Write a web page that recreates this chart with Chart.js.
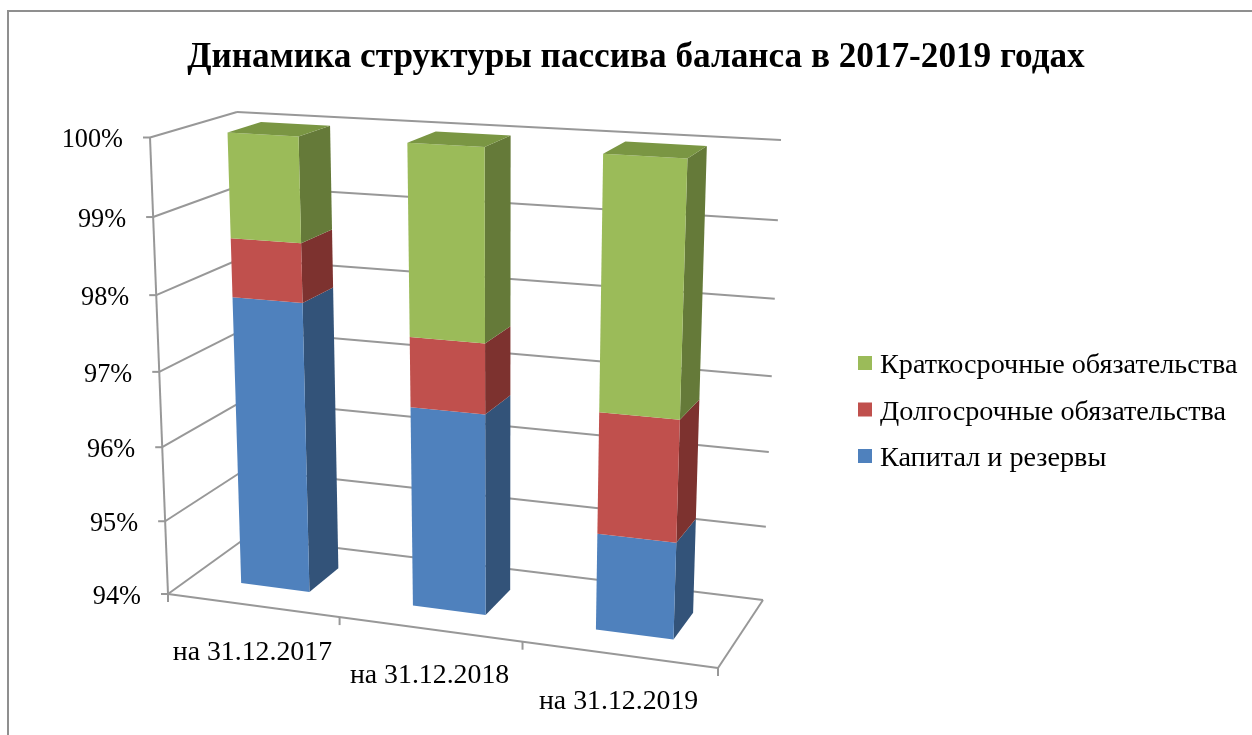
<!DOCTYPE html>
<html>
<head>
<meta charset="utf-8">
<style>
  html, body { margin: 0; padding: 0; background: #fff; overflow: hidden; }
  canvas { display: block; }
</style>
<script src="https://cdn.jsdelivr.net/npm/chart.js@4/dist/chart.umd.min.js"></script>
</head>
<body>
<canvas id="chart" width="1252" height="735"></canvas>
<script>
const categories = ['на 31.12.2017', 'на 31.12.2018', 'на 31.12.2019'];
const capital = [97.88, 96.65, 95.26];
const longTerm = [0.77, 0.91, 1.56];
const shortTerm = [1.35, 2.44, 3.18];
const yTicks = [94, 95, 96, 97, 98, 99, 100];
const seriesNames = ['Капитал и резервы', 'Долгосрочные обязательства', 'Краткосрочные обязательства'];

const C = {
  front: ['#4f81bd', '#c0504d', '#9bbb59'],
  side:  ['#335379', '#7d322f', '#657a39'],
  top:   '#7a9643',
  line:  '#989898',
  frame: '#8f8f8f',
  text:  '#000'
};
const FONT = '"Liberation Serif", "Times New Roman", serif';

// 3d box seen on screen: floor and ceiling quads, [front-left, front-right, back-right, back-left]
const floorQuad = [[168, 594], [718, 668], [763, 600], [247, 537]];
const ceilQuad  = [[150, 137.5], [738, 172], [781, 140], [237, 112]];
const barDepth = [0.29, 0.69];
const vPersp = 1.055;

function quadMap(q) {
  const [[x0, y0], [x1, y1], [x2, y2], [x3, y3]] = q;
  const dx1 = x1 - x2, dx2 = x3 - x2, sx = x0 - x1 + x2 - x3;
  const dy1 = y1 - y2, dy2 = y3 - y2, sy = y0 - y1 + y2 - y3;
  const d = dx1 * dy2 - dx2 * dy1;
  const g = (sx * dy2 - dx2 * sy) / d;
  const h = (dx1 * sy - sx * dy1) / d;
  const a = x1 - x0 + g * x1, b = x3 - x0 + h * x3;
  const e = y1 - y0 + g * y1, f = y3 - y0 + h * y3;
  return (u, z) => {
    const w = g * u + h * z + 1;
    return [(a * u + b * z + x0) / w, (e * u + f * z + y0) / w];
  };
}
const onFloor = quadMap(floorQuad);
const onCeil = quadMap(ceilQuad);

// u across the categories, t up the value axis, z into the depth, all 0..1
function project(u, t, z) {
  t = Math.max(0, Math.min(1, t));
  const k = t / (t + (1 - t) * vPersp);
  const a = onFloor(u, z), b = onCeil(u, z);
  return [a[0] + (b[0] - a[0]) * k, a[1] + (b[1] - a[1]) * k];
}

function line(ctx, p, q) {
  ctx.beginPath();
  ctx.moveTo(p[0], p[1]);
  ctx.lineTo(q[0], q[1]);
  ctx.stroke();
}

function poly(ctx, pts, color) {
  ctx.fillStyle = color;
  ctx.beginPath();
  pts.forEach((p, i) => i ? ctx.lineTo(p[0], p[1]) : ctx.moveTo(p[0], p[1]));
  ctx.closePath();
  ctx.fill();
}

const box3d = {
  id: 'box3d',

  beforeDatasetsDraw(chart) {
    const { ctx, chartArea: area, scales: { x, y } } = chart;
    const tOf = v => (area.bottom - y.getPixelForValue(v)) / area.height;

    ctx.save();
    // outer frame, cut by the picture on the right and at the bottom
    ctx.strokeStyle = C.frame;
    ctx.lineWidth = 2;
    ctx.beginPath();
    ctx.moveTo(8, 735);
    ctx.lineTo(8, 11);
    ctx.lineTo(1252, 11);
    ctx.stroke();

    ctx.strokeStyle = C.line;
    ctx.lineWidth = 2;
    y.ticks.forEach(tick => {
      const t = tOf(tick.value);
      const front = project(0, t, 0), back = project(0, t, 1), right = project(1, t, 1);
      line(ctx, front, back);
      line(ctx, back, right);
      line(ctx, front, [front[0] - 7, front[1]]);
      ctx.fillStyle = C.text;
      ctx.font = '26.3px ' + FONT;
      ctx.textAlign = 'right';
      ctx.textBaseline = 'middle';
      ctx.fillText(tick.value + '%', front[0] - 27, front[1] + 3);
    });
    line(ctx, project(0, 0, 0), project(0, 1, 0));
    line(ctx, project(0, 0, 0), project(1, 0, 0));
    line(ctx, project(1, 0, 0), project(1, 0, 1));

    categories.forEach((label, i) => {
      const p = project(i / categories.length, 0, 0);
      line(ctx, p, [p[0], p[1] + 8]);
      const mid = project((x.getPixelForValue(i) - area.left) / area.width, 0, 0);
      ctx.fillStyle = C.text;
      ctx.font = '27.8px ' + FONT;
      ctx.textAlign = 'center';
      ctx.textBaseline = 'middle';
      ctx.fillText(label, mid[0], mid[1] + 47);
    });
    const end = project(1, 0, 0);
    line(ctx, end, [end[0], end[1] + 8]);

    // bars, left to right and bottom to top, taken from the chart's own bar elements
    const [z0, z1] = barDepth;
    categories.forEach((_, i) => {
      chart.data.datasets.forEach((ds, d) => {
        const bar = chart.getDatasetMeta(d).data[i];
        const u0 = (bar.x - bar.width / 2 - area.left) / area.width;
        const u1 = (bar.x + bar.width / 2 - area.left) / area.width;
        const t0 = (area.bottom - bar.base) / area.height;
        const t1 = (area.bottom - bar.y) / area.height;
        poly(ctx, [project(u1, t0, z0), project(u1, t0, z1), project(u1, t1, z1), project(u1, t1, z0)], C.side[d]);
        poly(ctx, [project(u0, t0, z0), project(u1, t0, z0), project(u1, t1, z0), project(u0, t1, z0)], C.front[d]);
        if (d === chart.data.datasets.length - 1) {
          poly(ctx, [project(u0, t1, z0), project(u1, t1, z0), project(u1, t1, z1), project(u0, t1, z1)], C.top);
        }
      });
    });

    // legend, last series first
    ctx.font = '28.2px ' + FONT;
    ctx.textAlign = 'left';
    ctx.textBaseline = 'middle';
    chart.data.datasets.slice().reverse().forEach((ds, i) => {
      const cy = 363 + i * 46.5;
      ctx.fillStyle = ds.backgroundColor;
      ctx.fillRect(858, cy - 7, 14, 14);
      ctx.fillStyle = C.text;
      ctx.fillText(ds.label, 880, cy + 3);
    });
    ctx.restore();
    return false;
  }
};

new Chart(document.getElementById('chart'), {
  type: 'bar',
  data: {
    labels: categories,
    datasets: [
      { label: seriesNames[0], data: capital, backgroundColor: C.front[0] },
      { label: seriesNames[1], data: longTerm, backgroundColor: C.front[1] },
      { label: seriesNames[2], data: shortTerm, backgroundColor: C.front[2] }
    ]
  },
  options: {
    responsive: false,
    animation: false,
    layout: { padding: { left: 20 } },
    categoryPercentage: 1,
    barPercentage: 0.405,
    plugins: {
      legend: { display: false },
      tooltip: { enabled: false },
      title: {
        display: true,
        text: 'Динамика структуры пассива баланса в 2017-2019 годах',
        color: C.text,
        font: { family: FONT, size: 35.2, weight: 'bold' },
        padding: { top: 37, bottom: 10 }
      }
    },
    scales: {
      x: { display: false, stacked: true },
      y: {
        display: false, stacked: true,
        min: yTicks[0], max: yTicks[yTicks.length - 1],
        ticks: { stepSize: 1 }
      }
    }
  },
  plugins: [box3d]
});
</script>
</body>
</html>
